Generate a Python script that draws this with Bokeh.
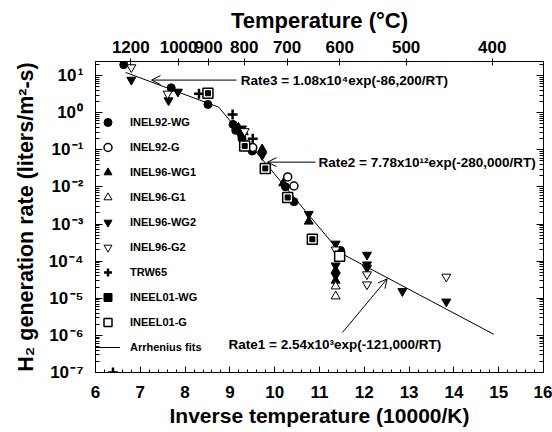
import math
from bokeh.plotting import figure
from bokeh.models import (Range1d, LinearAxis, LogAxis, FixedTicker, SingleIntervalTicker,
                          CustomJSTickFormatter, Legend, LegendItem, Label, Arrow, OpenHead,
                          ColumnDataSource, Title)
from bokeh.embed import file_html
from bokeh.resources import INLINE

FONT = "Liberation Sans"

# ---------------- data (x = 10000/T [1/K], y = H2 generation rate) ----------------
inel92_wg_x = [6.63, 7.69, 8.51, 9.07, 9.13, 9.25, 9.27, 9.50, 10.24, 10.43, 11.47]
inel92_wg_y = [19.7, 4.68, 1.67, 0.485, 0.335, 0.262, 0.201, 0.093, 0.0101, 0.0040, 1.95e-4]

inel92_g_x = [9.51, 10.29, 10.43]
inel92_g_y = [0.115, 0.0186, 0.0106]

inel96_wg1_x = [9.19, 9.31, 9.72, 10.19, 10.76, 11.36, 11.36]
inel96_wg1_y = [0.40, 0.30, 0.104, 0.0126, 0.00117, 5.6e-5, 3.0e-5]

inel96_g1_x = [11.36, 11.36]
inel96_g1_y = [2.1e-5, 1.13e-5]

inel96_wg2_x = [6.80, 7.63, 7.84, 9.27, 9.72, 10.76, 11.36, 11.36, 11.36, 12.06, 12.06, 12.06, 12.85, 13.83]
inel96_wg2_y = [7.67, 2.14, 3.66, 0.372, 0.0716, 0.00186, 2.95e-4, 7.6e-5, 4.1e-5, 1.48e-4, 8.1e-5, 6.6e-5, 1.55e-5, 8.1e-6]

inel96_g2_x = [6.80, 7.61, 9.33, 11.36, 12.06, 12.06, 13.83]
inel96_g2_y = [16.7, 3.24, 0.316, 2.05e-4, 4.4e-5, 2.35e-5, 3.8e-5]

trw65_x = [8.31, 9.06, 9.51, 6.39]
trw65_y = [3.24, 0.90, 0.20, 1.0e-7]

ineel01_wg_x = [8.51, 9.33, 9.79, 10.29, 10.84]
ineel01_wg_y = [3.35, 0.126, 0.0316, 0.0052, 3.9e-4]

ineel01_g_x = [8.51, 9.33, 9.79, 10.29, 10.84, 11.45]
ineel01_g_y = [3.35, 0.126, 0.0316, 0.0052, 3.9e-4, 1.35e-4]

fit_x = [6.67, 8.75, 11.47, 14.89]
fit_y = [12.2, 1.41, 1.66e-4, 1.07e-6]

y_decades = list(range(-7, 2))
top_temps_c = [1200, 1000, 900, 800, 700, 600, 500, 400]

# ---------------- figure ----------------
p = figure(width=552, height=432, x_range=Range1d(6, 16), y_range=Range1d(1e-7, 10 ** 1.38),
           y_axis_type="log", output_backend="svg", toolbar_location=None,
           min_border_left=95, min_border_right=9, min_border_top=61, min_border_bottom=60)
p.xgrid.visible = False
p.ygrid.visible = False
p.outline_line_color = "black"
p.background_fill_color = "white"
p.border_fill_color = "white"

y_major = [10.0 ** d for d in y_decades]
y_minor = [k * 10.0 ** d for d in y_decades for k in range(2, 10)]
y_ticker = FixedTicker(ticks=y_major, minor_ticks=y_minor)

sup_js = """
const e = Math.round(Math.log10(tick));
const s = {"-":"\u207b","0":"\u2070","1":"\u00b9","2":"\u00b2","3":"\u00b3","4":"\u2074","5":"\u2075","6":"\u2076","7":"\u2077","8":"\u2078","9":"\u2079"};
return "10\u200a" + String(e).split("").map(c => s[c]).join("");
"""

# bottom axis
xa = p.xaxis[0]
xa.ticker = SingleIntervalTicker(interval=1, num_minor_ticks=5)
xa.major_tick_in = 6
xa.major_tick_out = 0
xa.minor_tick_in = 3
xa.minor_tick_out = 0
xa.major_label_standoff = 13
xa.major_label_text_font = FONT
xa.major_label_text_font_style = "bold"
xa.major_label_text_font_size = "17px"
xa.major_label_text_color = "black"

# left axis
ya = p.yaxis[0]
ya.ticker = y_ticker
ya.formatter = CustomJSTickFormatter(code=sup_js)
ya.major_tick_in = 7
ya.major_tick_out = 0
ya.minor_tick_in = 4
ya.minor_tick_out = 0
ya.major_label_standoff = 12
ya.major_label_text_font = FONT
ya.major_label_text_font_style = "bold"
ya.major_label_text_font_size = "17px"
ya.major_label_text_color = "black"

# right axis
ra = LogAxis(ticker=y_ticker, formatter=CustomJSTickFormatter(code="return '';"),
             major_tick_in=7, major_tick_out=0, minor_tick_in=4, minor_tick_out=0,
             major_label_standoff=0, major_label_text_font_size="1px")
p.add_layout(ra, "right")

# top axis (temperature in C)
top_ticks = [10000.0 / (t + 273.15) for t in top_temps_c]
ta = LinearAxis(ticker=FixedTicker(ticks=top_ticks, minor_ticks=[]),
                formatter=CustomJSTickFormatter(code="return String(Math.round((10000/tick - 273.15)/100)*100);"),
                major_tick_in=4, major_tick_out=3, minor_tick_in=0, minor_tick_out=0,
                major_label_standoff=6, major_label_text_font=FONT,
                major_label_text_font_style="bold", major_label_text_font_size="17px",
                major_label_text_color="black")
p.add_layout(ta, "above")

# axis titles
p.title.text = "Temperature (\u00b0C)"
p.title.align = "center"
p.title.offset = -7
p.title.standoff = 10
p.title.text_font = FONT
p.title.text_font_style = "bold"
p.title.text_font_size = "22px"
p.title.text_color = "black"

p.add_layout(Title(text="Inverse temperature (10000/K)", align="center", offset=19, standoff=2,
                   text_font=FONT, text_font_style="bold", text_font_size="21px",
                   text_color="black"), "below")
p.add_layout(Title(text="H\u2082 generation rate (liters/m\u00b2-s)", align="center", offset=22, standoff=15,
                   text_font=FONT, text_font_style="bold", text_font_size="21.5px",
                   text_color="black"), "left")

# ---------------- data glyphs ----------------
p.line(fit_x, fit_y, line_color="black", line_width=1)

p.scatter(inel92_wg_x, inel92_wg_y, marker="circle", size=8, fill_color="black", line_color="black")
p.scatter(inel92_g_x, inel92_g_y, marker="circle", size=8, fill_color="white", line_color="black", line_width=1.5)
p.scatter(inel96_wg1_x, inel96_wg1_y, marker="triangle", size=9, fill_color="black", line_color="black")
p.scatter(inel96_g1_x, inel96_g1_y, marker="triangle", size=9, fill_color="white", line_color="black", line_width=1)
p.scatter(inel96_wg2_x, inel96_wg2_y, marker="inverted_triangle", size=9, fill_color="black", line_color="black")
p.scatter(inel96_g2_x, inel96_g2_y, marker="inverted_triangle", size=9, fill_color="white", line_color="black", line_width=1)
p.scatter(trw65_x, trw65_y, marker="cross", size=10, line_color="black", line_width=2.5)
p.scatter(ineel01_g_x, ineel01_g_y, marker="square", size=10, fill_color="white", line_color="black", line_width=1.5)
p.scatter(ineel01_wg_x, ineel01_wg_y, marker="square", size=5, fill_color="black", line_color="black")

# ---------------- legend (proxy renderers, no visible marks) ----------------
nan = float("nan")


def proxy():
    return ColumnDataSource(data=dict(x=[nan], y=[nan]))


leg_specs = [
    ("INEL92-WG", dict(marker="circle", size=7, fill_color="black", line_color="black")),
    ("INEL92-G", dict(marker="circle", size=6, fill_color="white", line_color="black", line_width=1.5)),
    ("INEL96-WG1", dict(marker="triangle", size=7, fill_color="black", line_color="black")),
    ("INEL96-G1", dict(marker="triangle", size=7, fill_color="white", line_color="black", line_width=1)),
    ("INEL96-WG2", dict(marker="inverted_triangle", size=7, fill_color="black", line_color="black")),
    ("INEL96-G2", dict(marker="inverted_triangle", size=7, fill_color="white", line_color="black", line_width=1)),
    ("TRW65", dict(marker="cross", size=7, line_color="black", line_width=2.5)),
    ("INEEL01-WG", dict(marker="square", size=6, fill_color="black", line_color="black")),
    ("INEEL01-G", dict(marker="square", size=6, fill_color="white", line_color="black", line_width=1.5)),
]
items = []
for lab, kw in leg_specs:
    r = p.scatter("x", "y", source=proxy(), **kw)
    items.append(LegendItem(label=lab, renderers=[r]))
rl = p.line("x", "y", source=proxy(), line_color="black", line_width=1)
items.append(LegendItem(label="Arrhenius fits", renderers=[rl]))

legend = Legend(items=items, location=(0, 15), padding=0, margin=0, spacing=5,
                glyph_width=25, glyph_height=20, label_height=20, label_standoff=10,
                label_text_font=FONT, label_text_font_style="bold", label_text_font_size="11px",
                label_text_color="black", border_line_color=None, background_fill_alpha=0)
p.add_layout(legend, "center")

# ---------------- annotations ----------------
ann_font = dict(text_font=FONT, text_font_style="bold", text_font_size="13.5px",
                text_color="black", text_baseline="middle")
p.add_layout(Label(x=9.24, y=7.57, text="Rate3 = 1.08x10\u2074exp(-86,200/RT)", **ann_font))
p.add_layout(Arrow(end=OpenHead(size=9, line_width=1), x_start=9.15, y_start=7.57,
                   x_end=7.25, y_end=7.57, line_width=1))

p.add_layout(Label(x=10.98, y=0.0466, text="Rate2 = 7.78x10\u00b9\u00b2exp(-280,000/RT)", **ann_font))
p.add_layout(Arrow(end=OpenHead(size=9, line_width=1), x_start=10.91, y_start=0.0466,
                   x_end=9.84, y_end=0.0466, line_width=1))

p.add_layout(Label(x=8.97, y=5.75e-7, text="Rate1 = 2.54x10\u00b3exp(-121,000/RT)", **ann_font))
p.add_layout(Arrow(end=OpenHead(size=9, line_width=1), x_start=11.51, y_start=1.19e-6,
                   x_end=12.51, y_end=3.33e-5, line_width=1))

open("out.html", "w").write(file_html(p, INLINE))
